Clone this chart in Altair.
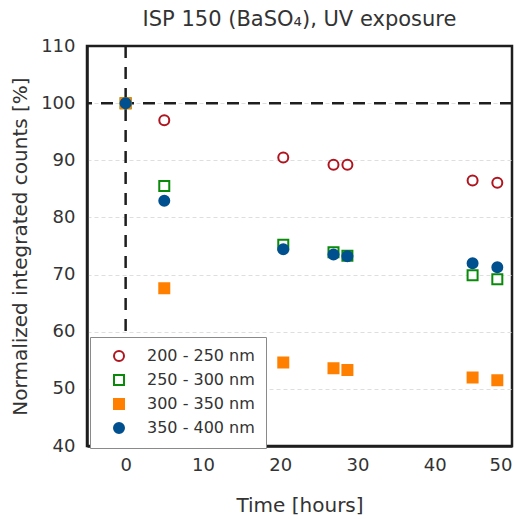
import altair as alt
import pandas as pd

# Exposure times [hours]
times = [0, 5, 20.4, 26.9, 28.7, 44.9, 48.1]

# Normalized integrated counts [%] per wavelength band
band_names = ["200 - 250 nm", "250 - 300 nm", "300 - 350 nm", "350 - 400 nm"]
counts_200_250 = [100, 97.0, 90.5, 89.2, 89.2, 86.45, 86.05]
counts_250_300 = [100, 85.5, 75.2, 73.9, 73.3, 69.9, 69.2]
counts_300_350 = [100, 67.6, 54.6, 53.6, 53.3, 52.0, 51.5]
counts_350_400 = [100, 82.9, 74.45, 73.5, 73.2, 72.0, 71.3]

# Marker styling per band
band_shapes = ["circle", "square", "square", "circle"]
band_strokes = ["#B0141E", "#0A8A0A", "#FF8000", "#00508F"]
band_fills = ["white", "white", "#FF8000", "#00508F"]

# Reference lines: start time and the 100 % level
ref_time = [0]
ref_level = [100]

rows = []
for name, vals in zip(band_names, [counts_200_250, counts_250_300,
                                   counts_300_350, counts_350_400]):
    for t, v in zip(times, vals):
        rows.append({"band": name, "time": t, "counts": v})
df = pd.DataFrame(rows)

FONT = "DejaVu Sans"
TXT = "#333333"

x_scale = alt.Scale(domain=[-5, 50], nice=False, zero=False)
y_scale = alt.Scale(domain=[40, 110], nice=False, zero=False)

legend = alt.Legend(
    title=None, orient="none", legendX=3, legendY=291,
    fillColor="white", strokeColor="#8a8a8a", padding=11,
    symbolOffset=10, labelOffset=20, rowPadding=6,
    labelFont=FONT, labelFontSize=16, labelColor=TXT,
    symbolStrokeWidth=2, symbolSize=100,
)

# hide the grid lines that would sit on the frame edges
edge_grid_opacity = {"condition": {"test": "datum.value >= 110 || datum.value <= 40", "value": 0},
                     "value": 1}

points = alt.Chart(df).mark_point(filled=True, size=100, strokeWidth=2, opacity=1).encode(
    x=alt.X("time:Q", scale=x_scale,
            axis=alt.Axis(title="Time [hours]", values=[0, 10, 20, 30, 40, 50],
                          grid=False, ticks=False, labelPadding=10, titlePadding=21)),
    y=alt.Y("counts:Q", scale=y_scale,
            axis=alt.Axis(title="Normalized integrated counts [%]",
                          values=[40, 50, 60, 70, 80, 90, 100, 110],
                          grid=True, gridDash=[4, 3], gridColor="#dedede",
                          gridOpacity=edge_grid_opacity,
                          ticks=False, labelPadding=12, titlePadding=10)),
    shape=alt.Shape("band:N", scale=alt.Scale(domain=band_names, range=band_shapes), legend=legend),
    stroke=alt.Stroke("band:N", scale=alt.Scale(domain=band_names, range=band_strokes), legend=legend),
    fill=alt.Fill("band:N", scale=alt.Scale(domain=band_names, range=band_fills), legend=legend),
    order=alt.Order("band:N"),
)

vline = alt.Chart(pd.DataFrame({"t": ref_time})).mark_rule(
    color="#1e1e1e", strokeWidth=2.5, strokeDash=[12, 9]
).encode(x=alt.X("t:Q", scale=x_scale))

hline = alt.Chart(pd.DataFrame({"v": ref_level})).mark_rule(
    color="#1e1e1e", strokeWidth=2.5, strokeDash=[12, 9]
).encode(y=alt.Y("v:Q", scale=y_scale))

chart = alt.layer(vline, hline, points).properties(
    width=425, height=400,
    title=alt.TitleParams("ISP 150 (BaSO₄), UV exposure", font=FONT, fontSize=21,
                          fontWeight="normal", color=TXT, offset=7),
    autosize=alt.AutoSizeParams(type="none"),
    padding={"left": 87, "top": 46, "right": 12, "bottom": 73},
).configure_view(
    stroke="#1e1e1e", strokeWidth=2.5
).configure_axis(
    labelFont=FONT, labelFontSize=18, labelColor=TXT,
    titleFont=FONT, titleFontSize=20, titleColor=TXT, titleFontWeight="normal",
    domainColor="#1e1e1e", domainWidth=2.5,
)

chart.save("out.html", embed_options={"renderer": "svg", "actions": False})
